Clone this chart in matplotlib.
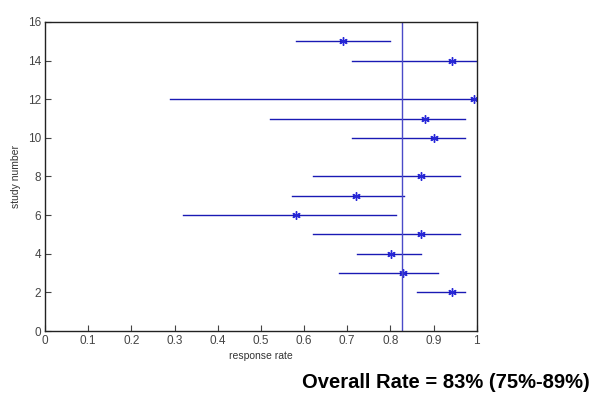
import numpy as np
import matplotlib.pyplot as plt

plt.rcParams['font.family'] = ['Liberation Sans', 'DejaVu Sans']

# study data: point estimate and confidence interval
study = [2, 3, 4, 5, 6, 7, 8, 10, 11, 12, 14, 15]
rate = [0.942, 0.830, 0.802, 0.870, 0.581, 0.721, 0.870, 0.902, 0.881, 0.993, 0.942, 0.690]
lower = [0.862, 0.681, 0.722, 0.620, 0.320, 0.571, 0.620, 0.710, 0.521, 0.289, 0.710, 0.581]
upper = [0.972, 0.910, 0.872, 0.962, 0.812, 0.831, 0.962, 0.972, 0.972, 1.000, 1.000, 0.800]
overall = 0.828

col = '#1a1ab4'

fig = plt.figure(figsize=(6, 4.05), dpi=100)
ax = fig.add_axes([0.075, 0.1827, 0.7195, 0.763])

for s, r, lo, hi in zip(study, rate, lower, upper):
    ax.plot([lo, hi], [s, s], color=col, lw=1)
ax.plot(rate, study, linestyle='none', marker=(6, 2, 0), markersize=6,
        color='#2828d8', mew=1.0)
ax.axvline(overall, color='#4a4ac8', lw=1)

ax.set_xlim(0, 1)
ax.set_ylim(0, 16)
ax.set_xticks(np.arange(0, 1.01, 0.1))
ax.set_xticklabels(['0', '0.1', '0.2', '0.3', '0.4', '0.5', '0.6', '0.7', '0.8', '0.9', '1'])
ax.set_yticks(range(0, 17, 2))
ax.tick_params(direction='in', length=4, labelsize=8.5, colors='#444444', pad=3)
for sp in ax.spines.values():
    sp.set_color('#222222')
    sp.set_linewidth(1)

ax.set_xlabel('response rate', fontsize=7.5, color='#333333', labelpad=3)
ax.set_ylabel('study number', fontsize=7.5, color='#333333', labelpad=5)

fig.text(0.983, 0.055, 'Overall Rate = 83% (75%-89%)', fontsize=14.5, fontweight='bold',
         ha='right', va='center', color='black')

fig.savefig('out.png', dpi=100)
